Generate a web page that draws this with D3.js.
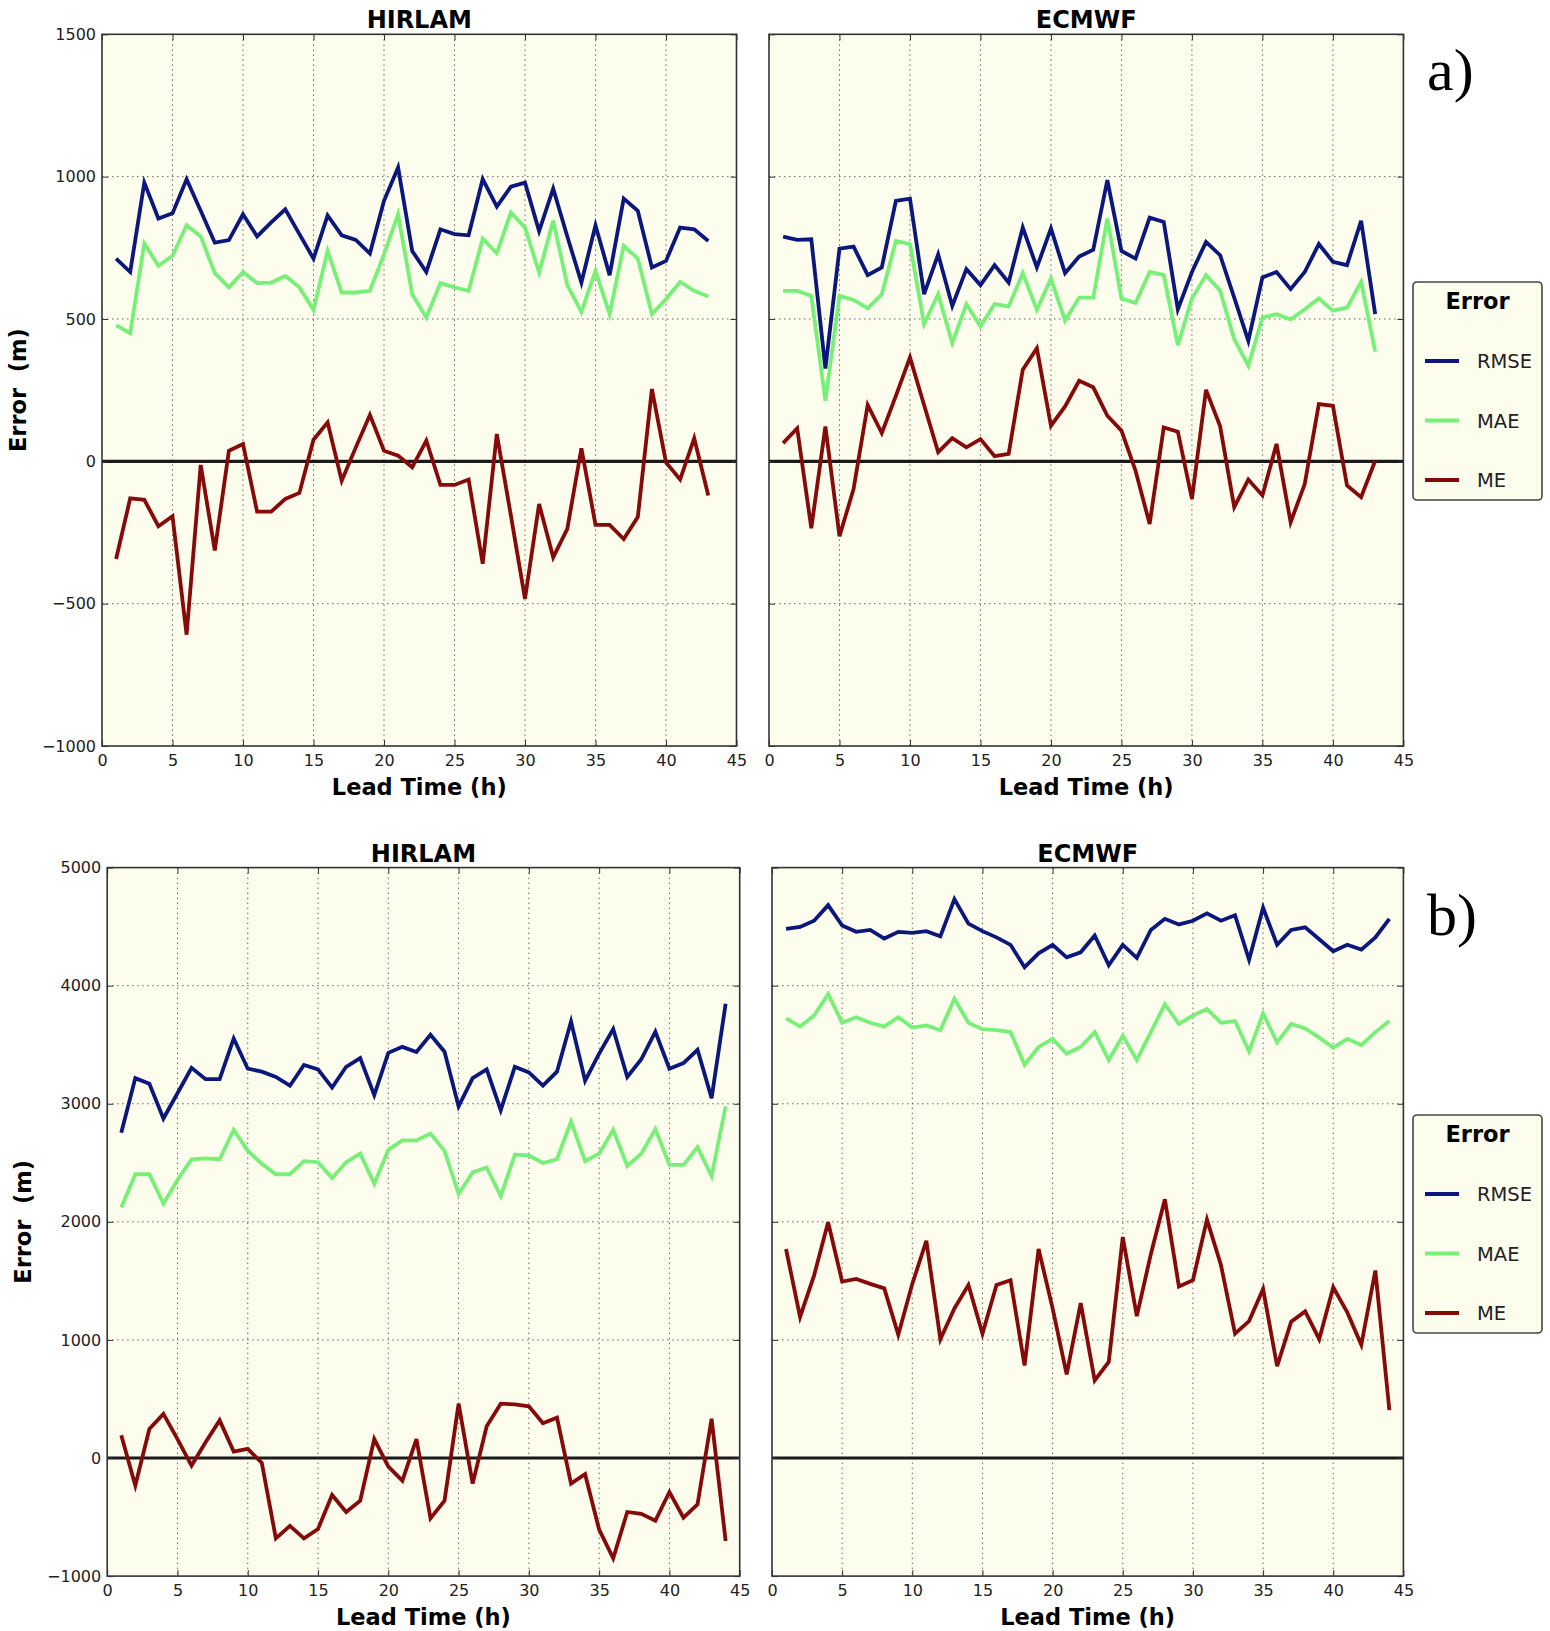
<!DOCTYPE html>
<html>
<head>
<meta charset="utf-8">
<script src="https://cdn.jsdelivr.net/npm/d3@7"></script>
<style>
  body { margin: 0; background: #fff; }
  text { font-family: "DejaVu Sans", sans-serif; }
</style>
</head>
<body>
<div id="chart"></div>
<script>
// lead times (h)
const leadTimesA = [1,2,3,4,5,6,7,8,9,10,11,12,13,14,15,16,17,18,19,20,21,22,23,24,25,26,27,28,29,30,31,32,33,34,35,36,37,38,39,40,41,42,43];
const leadTimesB = [1,2,3,4,5,6,7,8,9,10,11,12,13,14,15,16,17,18,19,20,21,22,23,24,25,26,27,28,29,30,31,32,33,34,35,36,37,38,39,40,41,42,43,44];

// a) HIRLAM
const rmseHirlamA = [712,665,979,853,871,991,880,768,777,868,790,839,885,798,712,864,794,778,730,915,1032,739,665,815,798,794,991,895,965,979,809,958,790,628,829,654,923,880,681,704,821,815,774];
const maeHirlamA = [478,450,765,687,722,829,790,661,611,665,626,628,651,611,532,739,593,593,599,727,868,587,505,626,611,599,782,731,874,821,663,845,619,525,669,517,757,712,517,570,630,599,579];
const meHirlamA = [-343,-130,-135,-228,-193,-609,-13,-313,37,61,-177,-177,-132,-111,76,137,-68,49,163,37,20,-21,73,-83,-83,-64,-360,96,-191,-483,-150,-337,-237,46,-223,-223,-273,-196,254,-4,-64,81,-120];

// a) ECMWF
const rmseEcmwfA = [789,778,780,326,747,754,654,681,915,923,587,727,546,675,619,689,628,821,681,818,661,719,743,988,739,712,856,841,534,665,771,724,575,423,646,665,605,665,763,701,689,845,517];
const maeEcmwfA = [599,599,581,213,581,567,537,587,774,763,482,587,415,552,474,552,544,661,532,642,494,575,575,853,572,556,665,654,408,572,654,599,429,336,505,517,499,534,572,529,540,630,385];
const meEcmwfA = [64,116,-235,122,-263,-97,198,99,230,365,198,32,81,49,78,18,26,322,397,125,193,283,260,160,108,-33,-220,119,104,-132,251,123,-161,-64,-120,61,-214,-80,201,195,-85,-126,2];

// b) HIRLAM
const rmseHirlamB = [2754,3217,3169,2875,3089,3304,3208,3208,3553,3297,3272,3227,3153,3329,3291,3137,3313,3387,3073,3431,3482,3438,3585,3441,2978,3217,3291,2946,3313,3265,3153,3272,3696,3195,3425,3633,3227,3377,3610,3297,3345,3457,3048,3847];
const maeHirlamB = [2121,2403,2403,2153,2355,2530,2537,2530,2780,2601,2492,2403,2403,2514,2505,2371,2505,2578,2323,2610,2690,2690,2748,2601,2236,2419,2460,2217,2569,2562,2498,2530,2850,2514,2578,2780,2473,2578,2786,2482,2482,2633,2387,2978];
const meHirlamB = [192,-233,246,374,160,-64,134,319,54,77,-42,-681,-575,-681,-601,-313,-457,-361,160,-73,-192,160,-511,-361,460,-217,268,460,454,438,294,342,-217,-137,-607,-850,-457,-473,-530,-288,-505,-393,332,-703];

// b) ECMWF
const rmseEcmwfB = [4481,4497,4550,4682,4509,4456,4472,4399,4456,4447,4462,4418,4733,4525,4462,4409,4346,4157,4274,4346,4240,4283,4425,4173,4346,4236,4472,4566,4519,4550,4613,4550,4597,4220,4660,4346,4472,4494,4393,4292,4346,4305,4409,4566];
const maeEcmwfB = [3723,3654,3748,3928,3686,3733,3686,3654,3733,3645,3664,3623,3890,3686,3632,3623,3607,3330,3481,3550,3425,3481,3607,3371,3575,3371,3607,3843,3676,3748,3802,3686,3701,3443,3764,3519,3676,3638,3560,3475,3550,3497,3607,3701];
const meEcmwfB = [1770,1195,1547,1997,1494,1516,1475,1437,1044,1475,1840,1006,1267,1465,1053,1465,1506,783,1770,1267,708,1311,657,814,1871,1201,1726,2192,1453,1506,2019,1632,1053,1160,1431,777,1154,1242,1006,1446,1233,959,1588,406];

// axis ticks and labels
const xTicks = [0,5,10,15,20,25,30,35,40,45];
const yTicksA = [-1000,-500,0,500,1000,1500];
const yTicksB = [-1000,0,1000,2000,3000,4000,5000];
const seriesNames = ["RMSE", "MAE", "ME"];
const panelTitles = ["HIRLAM", "ECMWF"];
const rowLabels = ["a)", "b)"];

const colors = { RMSE: "#0b177c", MAE: "#77f077", ME: "#860a0a" };
const bg = "#fdfdee";

const width = 1550, height = 1631;
const svg = d3.select("#chart").append("svg")
    .attr("width", width)
    .attr("height", height);

const fmt = d => (d < 0 ? "\u2212" + Math.abs(d) : String(d));

function drawPanel({ left, right, top, bottom, yDomain, yTicks, title, showYLabels, lead, series }) {
    const x = d3.scaleLinear().domain([0, 45]).range([left, right]);
    const y = d3.scaleLinear().domain(yDomain).range([bottom, top]);
    const g = svg.append("g");

    g.append("rect")
        .attr("x", left).attr("y", top)
        .attr("width", right - left).attr("height", bottom - top)
        .attr("fill", bg);

    // dotted grid
    g.append("g").selectAll("line").data(xTicks.slice(1, -1)).join("line")
        .attr("x1", d => x(d)).attr("x2", d => x(d))
        .attr("y1", top).attr("y2", bottom)
        .attr("stroke", "#666").attr("stroke-width", 1).attr("stroke-dasharray", "1.5,3.5");
    g.append("g").selectAll("line").data(yTicks.slice(1, -1)).join("line")
        .attr("x1", left).attr("x2", right)
        .attr("y1", d => y(d)).attr("y2", d => y(d))
        .attr("stroke", "#666").attr("stroke-width", 1).attr("stroke-dasharray", "1.5,3.5");

    // zero line
    g.append("line")
        .attr("x1", left).attr("x2", right)
        .attr("y1", y(0)).attr("y2", y(0))
        .attr("stroke", "#1a1a1a").attr("stroke-width", 3.2);

    // series
    const line = d3.line().x((d, i) => x(lead[i])).y(d => y(d));
    seriesNames.forEach(name => {
        g.append("path")
            .datum(series[name])
            .attr("fill", "none")
            .attr("stroke", colors[name])
            .attr("stroke-width", 3.8)
            .attr("stroke-linejoin", "miter")
            .attr("d", line);
    });

    // axes, ticks pointing inward
    g.append("g")
        .attr("transform", `translate(0,${bottom})`)
        .call(d3.axisBottom(x).tickValues(xTicks).tickSize(-6).tickPadding(9).tickFormat(fmt));
    g.append("g")
        .attr("transform", `translate(0,${top})`)
        .call(d3.axisTop(x).tickValues(xTicks).tickSize(-6).tickFormat(""));
    g.append("g")
        .attr("transform", `translate(${left},0)`)
        .call(d3.axisLeft(y).tickValues(yTicks).tickSize(-6).tickPadding(6)
            .tickFormat(showYLabels ? fmt : ""));
    g.append("g")
        .attr("transform", `translate(${right},0)`)
        .call(d3.axisRight(y).tickValues(yTicks).tickSize(-6).tickFormat(""));

    g.selectAll(".domain").remove();
    g.selectAll(".tick line").attr("stroke", "#333");
    g.selectAll(".tick text")
        .style("font-size", "16px")
        .style("font-family", "'DejaVu Sans', sans-serif")
        .attr("fill", "#222");

    // frame
    g.append("rect")
        .attr("x", left).attr("y", top)
        .attr("width", right - left).attr("height", bottom - top)
        .attr("fill", "none").attr("stroke", "#333").attr("stroke-width", 1.6);

    // title
    g.append("text")
        .attr("x", (left + right) / 2).attr("y", top - 6)
        .attr("text-anchor", "middle")
        .style("font-size", "24px").style("font-weight", "bold")
        .text(title);

    // x label
    g.append("text")
        .attr("x", (left + right) / 2).attr("y", bottom + 49)
        .attr("text-anchor", "middle")
        .style("font-size", "22.5px").style("font-weight", "bold")
        .text("Lead Time (h)");

    if (showYLabels) {
        g.append("text")
            .attr("transform", `translate(${left - 76},${(top + bottom) / 2}) rotate(-90)`)
            .attr("text-anchor", "middle")
            .style("font-size", "22.5px").style("font-weight", "bold")
            .style("white-space", "pre")
            .text("Error  (m)");
    }
}

function drawLegend(left, top, label, labelY) {
    const w = 129, h = 218;
    const g = svg.append("g");
    g.append("rect")
        .attr("x", left).attr("y", top).attr("width", w).attr("height", h)
        .attr("rx", 4).attr("ry", 4)
        .attr("fill", bg).attr("stroke", "#444").attr("stroke-width", 1.6);
    g.append("text")
        .attr("x", left + w / 2).attr("y", top + 27)
        .attr("text-anchor", "middle")
        .style("font-size", "22.5px").style("font-weight", "bold")
        .text("Error");
    const rowY = d3.scalePoint().domain(seriesNames).range([top + 79, top + 198]);
    seriesNames.forEach(name => {
        g.append("line")
            .attr("x1", left + 12).attr("x2", left + 46)
            .attr("y1", rowY(name)).attr("y2", rowY(name))
            .attr("stroke", colors[name]).attr("stroke-width", 3.8);
        g.append("text")
            .attr("x", left + 64).attr("y", rowY(name) + 7)
            .style("font-size", "19.5px").attr("fill", "#222")
            .text(name);
    });
    svg.append("text")
        .attr("x", 1427).attr("y", labelY)
        .style("font-family", "'Liberation Serif', 'Times New Roman', serif")
        .style("font-size", "60px")
        .text(label);
}

// row a)
drawPanel({ left: 102, right: 736.5, top: 34.3, bottom: 746, yDomain: [-1000, 1500], yTicks: yTicksA,
    title: panelTitles[0], showYLabels: true, lead: leadTimesA,
    series: { RMSE: rmseHirlamA, MAE: maeHirlamA, ME: meHirlamA } });
drawPanel({ left: 769, right: 1403.4, top: 34.3, bottom: 746, yDomain: [-1000, 1500], yTicks: yTicksA,
    title: panelTitles[1], showYLabels: false, lead: leadTimesA,
    series: { RMSE: rmseEcmwfA, MAE: maeEcmwfA, ME: meEcmwfA } });
drawLegend(1413, 282, rowLabels[0], 90);

// row b)
drawPanel({ left: 107.2, right: 739.7, top: 867.6, bottom: 1576.1, yDomain: [-1000, 5000], yTicks: yTicksB,
    title: panelTitles[0], showYLabels: true, lead: leadTimesB,
    series: { RMSE: rmseHirlamB, MAE: maeHirlamB, ME: meHirlamB } });
drawPanel({ left: 772, right: 1403.4, top: 867.6, bottom: 1576.1, yDomain: [-1000, 5000], yTicks: yTicksB,
    title: panelTitles[1], showYLabels: false, lead: leadTimesB,
    series: { RMSE: rmseEcmwfB, MAE: maeEcmwfB, ME: meEcmwfB } });
drawLegend(1413, 1115, rowLabels[1], 935);
</script>
</body>
</html>
